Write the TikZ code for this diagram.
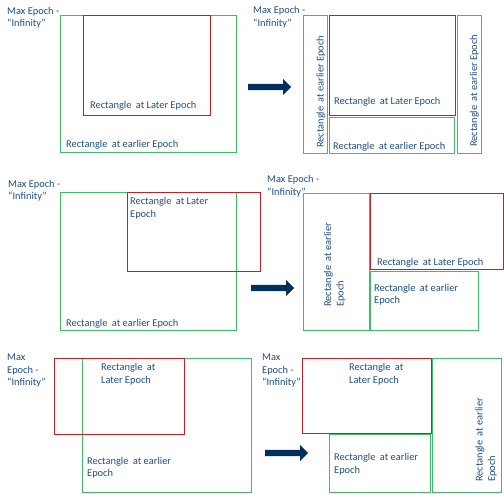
\documentclass[tikz,border=0pt]{standalone}
\usepackage{fontspec}
\setmainfont{Carlito}
\usetikzlibrary{shapes.arrows}
\definecolor{txtblue}{RGB}{31,78,135}
\definecolor{grn}{RGB}{60,190,100}
\definecolor{rd}{RGB}{200,30,35}
\definecolor{navy}{RGB}{0,48,96}
\newcommand{\gap}{\hspace{4.5pt}}
\tikzset{
  lbl/.style={inner sep=0pt, text=txtblue, font=\fontsize{10.4}{12.5}\selectfont, align=left, anchor=west},
  vlbl/.style={lbl, rotate=90},
  greenbox/.style={draw=grn, line width=1pt},
  redbox/.style={draw=rd, line width=1pt},
  bigarrow/.style={single arrow, fill=navy, draw=none, minimum height=43pt, inner sep=3pt,
    single arrow head extend=5pt, single arrow head indent=0pt, anchor=west}
}
\begin{document}
\begin{tikzpicture}[x=1pt,y=-1pt]
\useasboundingbox (0,0) rectangle (504,494);
% ---------- Row 1 ----------
\node[lbl] (m1) at (7,17.5) {Max Epoch -\\``Infinity''};
\draw[greenbox] (60,16) rectangle (236,153);
\draw[redbox] (83,16) rectangle (210,116);
\node[lbl] (l1) at (90,106) {Rectangle\gap at Later Epoch};
\node[lbl] (e1) at (66,145) {Rectangle\gap at earlier Epoch};
\node[bigarrow] (a1) at (248,87) {};
\node[lbl] (m2) at (253,17) {Max Epoch -\\``Infinity''};
\draw[greenbox] (303,16) rectangle (327,154);
\draw[redbox] (329,16) rectangle (455,116);
\draw[greenbox] (329,118) rectangle (454,154);
\draw[greenbox] (457,16) rectangle (481,154);
\node[vlbl] (v2a) at (321,148) {Rectangle\gap at earlier Epoch};
\node[vlbl] (v2b) at (474.5,147) {Rectangle\gap at earlier Epoch};
\node[lbl] (l2) at (334,102) {Rectangle\gap at Later Epoch};
\node[lbl] (e2) at (333,147) {Rectangle\gap at earlier Epoch};
% ---------- Row 2 ----------
\node[lbl] (m3) at (8,190.5) {Max Epoch -\\``Infinity''};
\draw[greenbox] (60,193) rectangle (236,331);
\draw[redbox] (127,193) rectangle (260,272);
\node[lbl] (l3) at (130,208) {Rectangle\gap at Later\\Epoch};
\node[lbl] (e3) at (66,324) {Rectangle\gap at earlier Epoch};
\node[bigarrow] (a2) at (251,288) {};
\node[lbl] (m4) at (267,186) {Max Epoch -\\``Infinity''};
\draw[greenbox] (303,194) rectangle (369,331);
\draw[redbox] (370,194) rectangle (503,270);
\draw[greenbox] (370,272) rectangle (478,331);
\node[vlbl] (v4) at (334.5,307) {Rectangle\gap at earlier\\Epoch};
\node[lbl] (l4) at (377,263) {Rectangle\gap at Later Epoch};
\node[lbl] (e4) at (374,294.5) {Rectangle\gap at earlier\\Epoch};
% ---------- Row 3 ----------
\node[lbl] (m5) at (7,371) {Max\\Epoch -\\``Infinity''};
\draw[greenbox] (82,359) rectangle (251,493);
\draw[redbox] (54,359) rectangle (184,435);
\node[lbl] (l5) at (101,374) {Rectangle\gap at\\Later Epoch};
\node[lbl] (e5) at (87,467.5) {Rectangle\gap at earlier\\Epoch};
\node[bigarrow] (a3) at (265,453) {};
\node[lbl] (m6) at (262,371) {Max\\Epoch -\\``Infinity''};
\draw[redbox] (302,359) rectangle (431,434);
\draw[greenbox] (329,435) rectangle (430,493);
\draw[greenbox] (432,359) rectangle (501,493);
\node[lbl] (l6) at (349,374) {Rectangle\gap at\\Later Epoch};
\node[lbl] (e6) at (334,464) {Rectangle\gap at earlier\\Epoch};
\node[vlbl] (v6) at (486,482) {Rectangle\gap at earlier\\Epoch};
\end{tikzpicture}
\end{document}
